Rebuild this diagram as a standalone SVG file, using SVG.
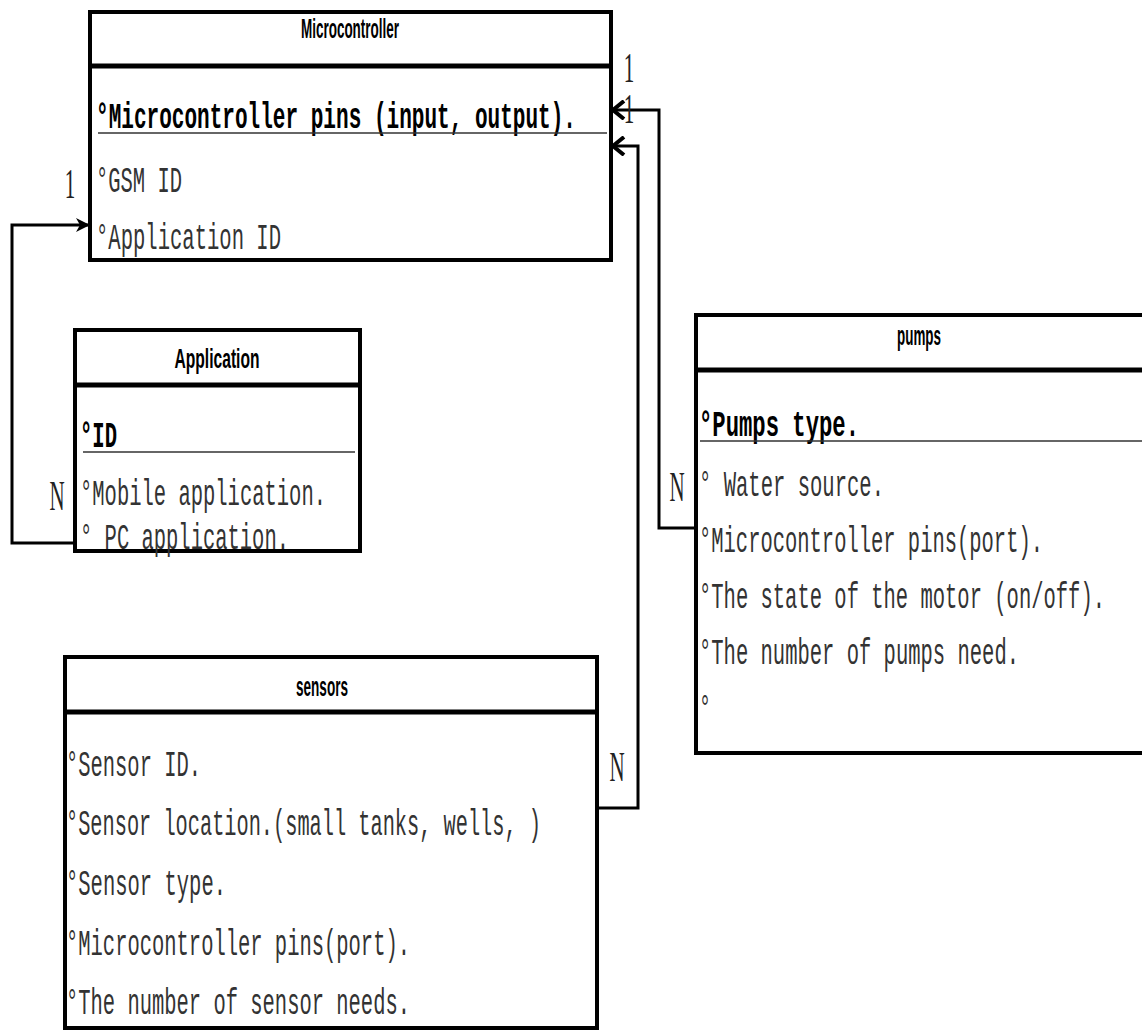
<svg xmlns="http://www.w3.org/2000/svg" width="1142" height="1030" viewBox="0 0 1142 1030">
<style>
.box{fill:#fff;stroke:#000;stroke-width:4}
.edge{fill:none;stroke:#000;stroke-width:4}
.sep{stroke:#000;stroke-width:5}
.ul{stroke:#333;stroke-width:1.5}
.t{font-family:"Liberation Sans",Arial,sans-serif;font-weight:bold;font-size:27px;fill:#000;text-anchor:middle}
.a{font-family:"Liberation Mono","Courier New",monospace;font-size:21px;fill:#333}
.b{font-weight:bold;fill:#000}
.c{fill:none;stroke:#000;stroke-width:3}
.m{font-family:"Liberation Serif","Times New Roman",serif;font-size:42px;fill:#222;text-anchor:middle}
</style>
<defs>
<marker id="chev" viewBox="0 0 16 20" refX="14" refY="10" markerWidth="16" markerHeight="20" orient="auto" markerUnits="userSpaceOnUse">
<path d="M3,1 L14,10 L3,19" fill="none" stroke="#000" stroke-width="4"/>
</marker>
<marker id="tri" viewBox="0 0 14 14" refX="14" refY="7" markerWidth="14" markerHeight="14" orient="auto" markerUnits="userSpaceOnUse">
<path d="M0,0 L14,7 L0,14 L4,7 z" fill="#000"/>
</marker>
</defs>

<g id="connectors">
<path class="c" d="M75,543 H12 V225 H90" marker-end="url(#tri)"/>
<path class="c" d="M696,528 H659 V110 H613" marker-end="url(#chev)"/>
<path class="c" d="M597,808 H638 V146 H613" marker-end="url(#chev)"/>
<text class="m" transform="translate(70,198) scale(0.5,1)">1</text>
<text class="m" transform="translate(57,510) scale(0.5,1)">N</text>
<text class="m" transform="translate(629,82) scale(0.5,1)">1</text>
<text class="m" transform="translate(629,123) scale(0.5,1)">1</text>
<text class="m" transform="translate(677,501) scale(0.5,1)">N</text>
<text class="m" transform="translate(617,781) scale(0.5,1)">N</text>
</g>

<g id="microcontroller">
<rect class="box" x="90" y="12" width="521" height="248"/>
<line class="sep" x1="90" y1="66" x2="611" y2="66"/>
<text class="t" x="350" y="38" textLength="98" lengthAdjust="spacingAndGlyphs">Microcontroller</text>
<text class="a b" transform="translate(96,128) scale(1,1.76)" textLength="480" lengthAdjust="spacingAndGlyphs">°Microcontroller pins (input, output).</text>
<line class="ul" x1="98" y1="133" x2="607" y2="133"/>
<text class="a" transform="translate(96,192) scale(1,1.76)" textLength="86" lengthAdjust="spacingAndGlyphs">°GSM ID</text>
<text class="a" transform="translate(96,249) scale(1,1.76)" textLength="185" lengthAdjust="spacingAndGlyphs">°Application ID</text>
</g>

<g id="application">
<rect class="box" x="75" y="330" width="285" height="221"/>
<line class="sep" x1="75" y1="385" x2="360" y2="385"/>
<text class="t" x="217" y="368" textLength="85" lengthAdjust="spacingAndGlyphs">Application</text>
<text class="a b" transform="translate(80,447) scale(1,1.76)" textLength="37" lengthAdjust="spacingAndGlyphs">°ID</text>
<line class="ul" x1="83" y1="452" x2="355" y2="452"/>
<text class="a" transform="translate(80,505) scale(1,1.76)" textLength="246" lengthAdjust="spacingAndGlyphs">°Mobile application.</text>
<text class="a" transform="translate(80,549) scale(1,1.76)" textLength="209" lengthAdjust="spacingAndGlyphs">° PC application.</text>
</g>

<g id="sensors">
<rect class="box" x="65" y="657" width="532" height="371"/>
<line class="sep" x1="65" y1="712" x2="597" y2="712"/>
<text class="t" x="322" y="696" textLength="52" lengthAdjust="spacingAndGlyphs">sensors</text>
<text class="a" transform="translate(66,776) scale(1,1.76)" textLength="135" lengthAdjust="spacingAndGlyphs">°Sensor ID.</text>
<text class="a" transform="translate(66,835) scale(1,1.76)" textLength="475" lengthAdjust="spacingAndGlyphs">°Sensor location.(small tanks, wells, )</text>
<text class="a" transform="translate(66,895) scale(1,1.76)" textLength="160" lengthAdjust="spacingAndGlyphs">°Sensor type.</text>
<text class="a" transform="translate(66,955) scale(1,1.76)" textLength="344" lengthAdjust="spacingAndGlyphs">°Microcontroller pins(port).</text>
<text class="a" transform="translate(66,1014) scale(1,1.76)" textLength="344" lengthAdjust="spacingAndGlyphs">°The number of sensor needs.</text>
</g>

<g id="pumps">
<rect x="696" y="315" width="446" height="438" fill="#fff"/>
<path class="edge" d="M1142,315 H696 V753 H1142"/>
<line class="sep" x1="696" y1="370" x2="1142" y2="370"/>
<text class="t" x="919" y="345" textLength="44" lengthAdjust="spacingAndGlyphs">pumps</text>
<text class="a b" transform="translate(699,436) scale(1,1.76)" textLength="160" lengthAdjust="spacingAndGlyphs">°Pumps  type.</text>
<line class="ul" x1="700" y1="441" x2="1142" y2="441"/>
<text class="a" transform="translate(699,496) scale(1,1.76)" textLength="185" lengthAdjust="spacingAndGlyphs">° Water source.</text>
<text class="a" transform="translate(699,552) scale(1,1.76)" textLength="344" lengthAdjust="spacingAndGlyphs">°Microcontroller pins(port).</text>
<text class="a" transform="translate(699,608) scale(1,1.76)" textLength="406" lengthAdjust="spacingAndGlyphs">°The state of the motor (on/off).</text>
<text class="a" transform="translate(699,664) scale(1,1.76)" textLength="320" lengthAdjust="spacingAndGlyphs">°The number of pumps need.</text>
<text class="a" transform="translate(699,720) scale(1,1.76)" textLength="12" lengthAdjust="spacingAndGlyphs">°</text>
</g>
</svg>
